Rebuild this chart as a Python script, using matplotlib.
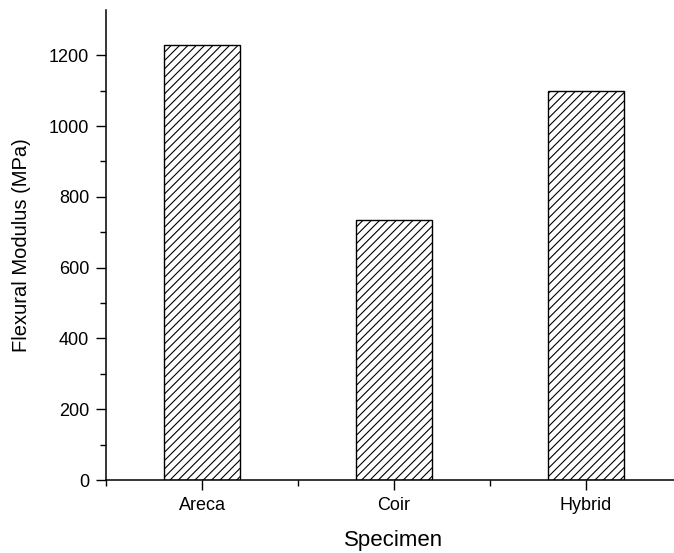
import matplotlib
matplotlib.use("Agg")
import matplotlib.pyplot as plt
from matplotlib.ticker import FixedLocator

plt.rcParams['font.family'] = ['Liberation Sans', 'DejaVu Sans']
plt.rcParams['hatch.linewidth'] = 0.8

# Dados
specimens = ['Areca', 'Coir', 'Hybrid']
modulus = [1230, 735, 1098]
y_ticks = [0, 200, 400, 600, 800, 1000, 1200]
y_minor = [100, 300, 500, 700, 900, 1100]

fig = plt.figure(figsize=(6.74, 5.53), dpi=100)
# eixo passa um pouco da borda direita, como na figura original
ax = fig.add_axes([0.1573, 0.132, 0.8546, 0.85])

pos = list(range(1, len(specimens) + 1))
ax.bar(pos, modulus, width=0.4, color='white', edgecolor='black',
       hatch='////', linewidth=1.0, zorder=2)

ax.set_xlim(0.5, 3.5)
ax.set_ylim(0, 1328)
ax.set_xticks(pos)
ax.set_xticklabels(specimens)
ax.xaxis.set_minor_locator(FixedLocator([0.5, 1.5, 2.5, 3.5]))
ax.set_yticks(y_ticks)
ax.yaxis.set_minor_locator(FixedLocator(y_minor))

ax.spines['top'].set_visible(False)
ax.spines['right'].set_visible(False)
ax.spines['left'].set_linewidth(1.1)
ax.spines['bottom'].set_linewidth(1.1)

ax.tick_params(axis='both', which='major', direction='out', length=7,
               width=1.0, labelsize=13, colors='black')
ax.tick_params(axis='both', which='minor', direction='out', length=4.5,
               width=1.0)
ax.tick_params(axis='y', which='major', pad=5)
ax.tick_params(axis='x', which='major', pad=5)

ax.set_ylabel('Flexural Modulus (MPa)', fontsize=14.5, labelpad=13)
ax.set_xlabel('Specimen', fontsize=16, labelpad=12)

fig.savefig('out.png', dpi=100)
